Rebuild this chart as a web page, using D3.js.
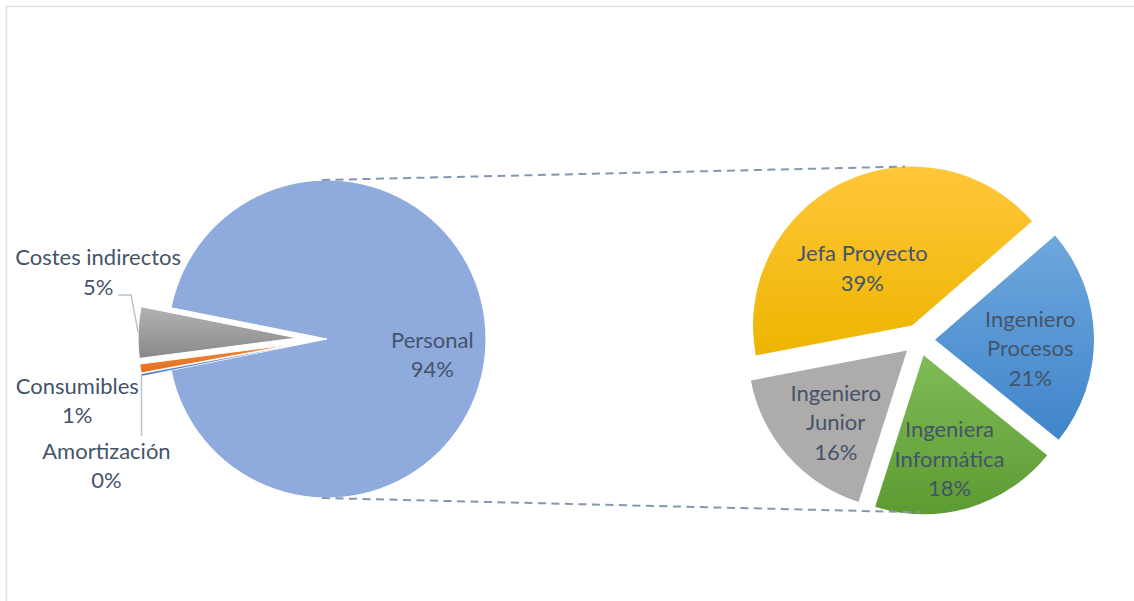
<!DOCTYPE html>
<html>
<head>
<meta charset="utf-8">
<script src="https://cdn.jsdelivr.net/npm/d3@7"></script>
<style>
  body { margin: 0; background: #fff; }
  text { font-family: Lato, 'Open Sans', sans-serif; }
</style>
</head>
<body>
<script>
'use strict'

// main pie, clockwise starting at the split slice
const mainCategories = ['Personal', 'Amortización', 'Consumibles', 'Costes indirectos']
const mainValues = [93.7, 0.2, 0.9, 5.2]

// breakdown of "Personal" (share of the total)
const personalCategories = ['Jefa Proyecto', 'Ingeniero Procesos', 'Ingeniera Informática', 'Ingeniero Junior']
const personalValues = [39.0, 20.8, 17.9, 16.0]

const width = 1134
const height = 601
const radius = 159
const left = { x: 327, y: 339 }
const right = { x: 919, y: 340 }
const fontSize = 22
const lineHeight = 29.5
const textColor = '#44546A'

const mainColors = {
    'Personal': ['#8FAADC', '#8FAADC'],
    'Amortización': ['#4472C4', '#4472C4'],
    'Consumibles': ['#F08538', '#E2701F'],
    'Costes indirectos': ['#B3B3B3', '#898989']
}
const personalColors = {
    'Jefa Proyecto': ['#FFC73A', '#EDB500'],
    'Ingeniero Procesos': ['#6FA7DD', '#3F85CA'],
    'Ingeniera Informática': ['#7FBB57', '#5C9B32'],
    'Ingeniero Junior': ['#AEABAB', '#AEABAB']
}

// label tweaks relative to slice centroid / outer point
const labelLayout = {
    'Personal': { dx: -6, dy: 16, wrap: false },
    'Costes indirectos': { dx: -40, dy: -60, wrap: false, outside: true },
    'Consumibles': { dx: -63, dy: 32, wrap: false, outside: true },
    'Amortización': { dx: -35, dy: 91, wrap: false, outside: true },
    'Jefa Proyecto': { dx: -1, dy: 43, wrap: false },
    'Ingeniero Procesos': { dx: -16, dy: 11, wrap: true },
    'Ingeniera Informática': { dx: -6, dy: -3, wrap: true },
    'Ingeniero Junior': { dx: 12, dy: -2, wrap: true }
}

const svg = d3.select('body').append('svg')
    .attr('width', width)
    .attr('height', height)

const defs = svg.append('defs')

// chart area border (only top and left visible in frame)
svg.append('path')
    .attr('d', `M6.5,${height + 5} V6.5 H${width + 5}`)
    .attr('fill', 'none')
    .attr('stroke', '#DCE1E8')
    .attr('stroke-width', 1.5)

function gradient(id, stops) {
    const g = defs.append('linearGradient')
        .attr('id', id)
        .attr('x1', 0).attr('y1', 0).attr('x2', 0).attr('y2', 1)
    g.append('stop').attr('offset', '0%').attr('stop-color', stops[0])
    g.append('stop').attr('offset', '100%').attr('stop-color', stops[1])
    return `url(#${id})`
}

const arc = d3.arc().innerRadius(0).outerRadius(radius)
const mid = d => (d.startAngle + d.endAngle) / 2
const dir = a => [Math.sin(a), -Math.cos(a)]

function drawLabel(g, x, y, lines) {
    const n = lines.length
    const t = g.append('text')
        .attr('text-anchor', 'middle')
        .attr('fill', textColor)
        .style('font-size', fontSize + 'px')
    lines.forEach((s, i) => {
        t.append('tspan')
            .attr('x', x)
            .attr('y', y + (i - (n - 1) / 2) * lineHeight + 0.35 * fontSize)
            .text(s)
    })
}

function pct(v) { return Math.round(v) + '%' }

// ---------- main pie ----------
const total = d3.sum(mainValues)
const personalAngle = 2 * Math.PI * mainValues[0] / total
const mainStart = Math.PI / 2 - personalAngle / 2

const mainArcs = d3.pie().sort(null).value(d => d)
    .startAngle(mainStart).endAngle(mainStart + 2 * Math.PI)(mainValues)

const mainExplode = 30
const gLeft = svg.append('g').attr('transform', `translate(${left.x},${left.y})`)

mainArcs.forEach((d, i) => {
    const name = mainCategories[i]
    const e = i === 0 ? 0 : mainExplode
    const [ux, uy] = dir(mid(d))
    gLeft.append('path')
        .attr('d', arc(d))
        .attr('transform', `translate(${ux * e},${uy * e})`)
        .attr('fill', gradient('m' + i, mainColors[name]))
        .attr('stroke', '#fff')
        .attr('stroke-width', i === 1 ? 0.3 : 1)
})

// ---------- personal breakdown pie ----------
const rightStart = -100.8 * Math.PI / 180
const rightArcs = d3.pie().sort(null).value(d => d)
    .startAngle(rightStart).endAngle(rightStart + 2 * Math.PI)(personalValues)
const rightExplode = 16
const gRight = svg.append('g').attr('transform', `translate(${right.x},${right.y})`)

rightArcs.forEach((d, i) => {
    const [ux, uy] = dir(mid(d))
    gRight.append('path')
        .attr('d', arc(d))
        .attr('transform', `translate(${ux * rightExplode},${uy * rightExplode})`)
        .attr('fill', gradient('p' + i, personalColors[personalCategories[i]]))
})

// ---------- connector lines ----------
const jefa = rightArcs[0]
const info = rightArcs[2]
const jefaOff = dir(mid(jefa)).map(v => v * rightExplode)
const infoOff = dir(mid(info)).map(v => v * rightExplode)
const connectors = [
    [[left.x - 5, left.y - radius], [right.x + jefaOff[0] - 7, right.y + jefaOff[1] - radius]],
    [[left.x - 5, left.y + radius], [right.x + infoOff[0] - 4, right.y + infoOff[1] - 2 + radius]]
]
svg.append('g').selectAll('line').data(connectors).join('line')
    .attr('x1', d => d[0][0]).attr('y1', d => d[0][1])
    .attr('x2', d => d[1][0]).attr('y2', d => d[1][1])
    .attr('stroke', '#8496B0')
    .attr('stroke-width', 2)
    .attr('stroke-dasharray', '8,5.5')

// ---------- labels ----------
const gLabels = svg.append('g')
const labelArc = d3.arc().innerRadius(radius * 0.7).outerRadius(radius * 0.7)

mainArcs.forEach((d, i) => {
    const name = mainCategories[i]
    const lay = labelLayout[name]
    const a = mid(d)
    const [ux, uy] = dir(a)
    let x, y
    if (lay.outside) {
        const ox = left.x + ux * (radius + mainExplode)
        const oy = left.y + uy * (radius + mainExplode)
        x = ox + lay.dx
        y = oy + lay.dy
        // leader lines
        let pts = null
        if (name === 'Costes indirectos') {
            const ly = y + 22.5
            pts = [[ox, oy], [ox - 7, ly], [ox - 20, ly]]
        } else if (name === 'Amortización') {
            pts = [[ox, oy], [ox, y - 30]]
        }
        if (pts) {
            gLabels.append('path')
                .attr('d', d3.line()(pts))
                .attr('fill', 'none')
                .attr('stroke', '#B8C3D2')
                .attr('stroke-width', 1.5)
        }
    } else {
        const c = labelArc.centroid(d)
        x = left.x + c[0] + lay.dx
        y = left.y + c[1] + lay.dy
    }
    drawLabel(gLabels, x, y, [name, pct(mainValues[i])])
})

rightArcs.forEach((d, i) => {
    const name = personalCategories[i]
    const lay = labelLayout[name]
    const [ux, uy] = dir(mid(d))
    const c = labelArc.centroid(d)
    const x = right.x + c[0] + ux * rightExplode + lay.dx
    const y = right.y + c[1] + uy * rightExplode + lay.dy
    const lines = lay.wrap ? name.split(' ') : [name]
    drawLabel(gLabels, x, y, lines.concat(pct(personalValues[i])))
})
</script>
</body>
</html>
